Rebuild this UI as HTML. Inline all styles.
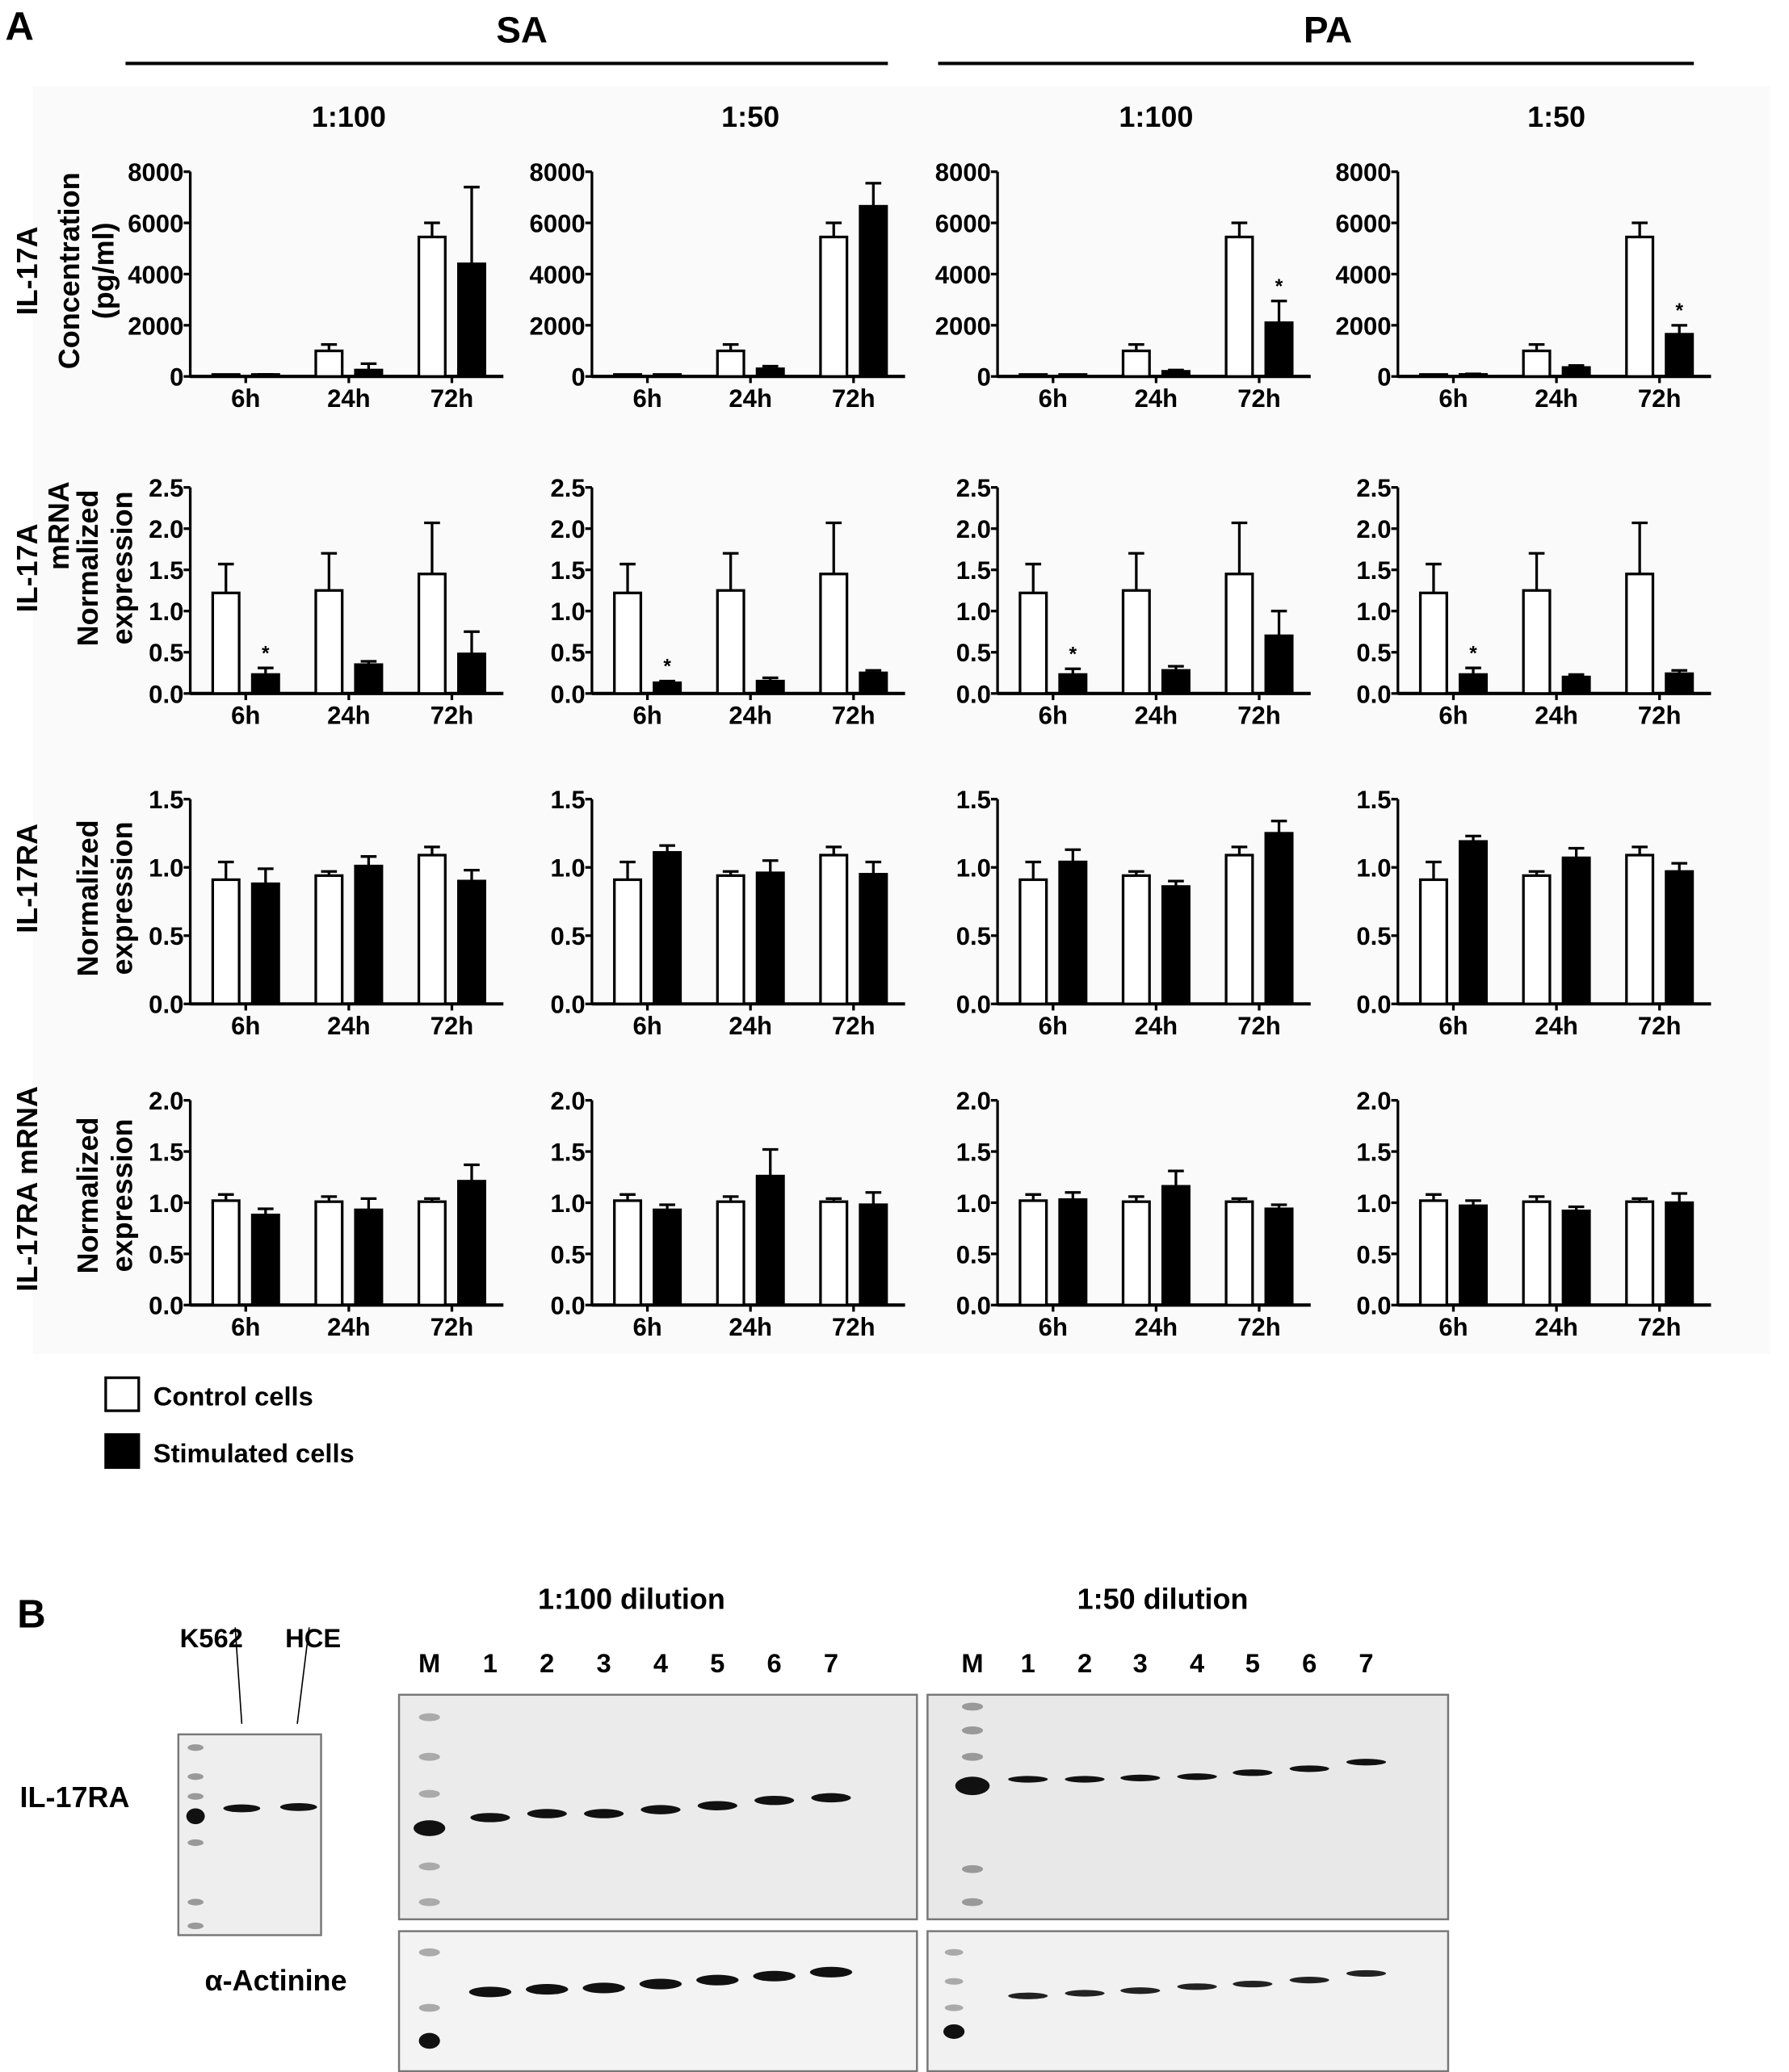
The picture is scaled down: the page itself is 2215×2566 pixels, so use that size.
<!DOCTYPE html>
<html><head><meta charset="utf-8"><style>
html,body{margin:0;padding:0;background:#fff;}
svg{display:block;}
text{font-family:"Liberation Sans",Arial,sans-serif;font-weight:bold;fill:#000;}
</style></head><body>
<svg id="fig" width="2215" height="2566" viewBox="0 0 1354 1568.6" preserveAspectRatio="none" xmlns="http://www.w3.org/2000/svg">
<rect x="0" y="0" width="1354" height="1569" fill="#fff"/>
<rect x="25" y="65" width="1315" height="960" fill="#fafafa"/>
<text x="4" y="30" font-size="30">A</text>
<text x="395" y="32" font-size="28" text-anchor="middle">SA</text>
<line x1="95" y1="48" x2="672" y2="48" stroke="#000" stroke-width="2.5"/>
<text x="1005" y="32" font-size="28" text-anchor="middle">PA</text>
<line x1="710" y1="48" x2="1282" y2="48" stroke="#000" stroke-width="2.5"/>
<g id="charts"></g>
<g>
<rect x="80" y="1043" width="25" height="25" fill="#fff" stroke="#000" stroke-width="2"/>
<text x="116" y="1064" font-size="20">Control cells</text>
<rect x="80" y="1086" width="25" height="25" fill="#000" stroke="#000" stroke-width="2"/>
<text x="116" y="1107" font-size="20">Stimulated cells</text>
</g>
<g id="partb"></g>
</svg>
<script>
const NS="http://www.w3.org/2000/svg";
const timepoints=["6h","24h","72h"];
const colTitles=["1:100","1:50","1:100","1:50"];
// Row 1: IL-17A concentration (pg/ml)
const r1Control=[30,1000,5450];
const r1ControlErr=[0,250,550];
const r1Stim=[[60,250,4400],[40,300,6650],[30,200,2100],[80,350,1650]];
const r1StimErr=[[20,250,3000],[0,100,900],[0,50,850],[20,80,350]];
const r1Stars=[[],[],[2],[2]];
const r1Ticks=["0","2000","4000","6000","8000"];
// Row 2: IL-17A mRNA
const r2Control=[1.22,1.25,1.45];
const r2ControlErr=[0.35,0.45,0.62];
const r2Stim=[[0.23,0.35,0.48],[0.13,0.15,0.25],[0.23,0.28,0.70],[0.23,0.20,0.24]];
const r2StimErr=[[0.08,0.04,0.27],[0.02,0.04,0.03],[0.07,0.05,0.30],[0.08,0.03,0.04]];
const r2Stars=[[0],[0],[0],[0]];
const r2Ticks=["0.0","0.5","1.0","1.5","2.0","2.5"];
// Row 3: IL-17RA protein
const r3Control=[0.91,0.94,1.09];
const r3ControlErr=[0.13,0.03,0.06];
const r3Stim=[[0.88,1.01,0.90],[1.11,0.96,0.95],[1.04,0.86,1.25],[1.19,1.07,0.97]];
const r3StimErr=[[0.11,0.07,0.08],[0.05,0.09,0.09],[0.09,0.04,0.09],[0.04,0.07,0.06]];
const r3Stars=[[],[],[],[]];
const r3Ticks=["0.0","0.5","1.0","1.5"];
// Row 4: IL-17RA mRNA
const r4Control=[1.02,1.01,1.01];
const r4ControlErr=[0.06,0.05,0.03];
const r4Stim=[[0.88,0.93,1.21],[0.93,1.26,0.98],[1.03,1.16,0.94],[0.97,0.92,1.00]];
const r4StimErr=[[0.06,0.11,0.16],[0.05,0.26,0.12],[0.07,0.15,0.04],[0.05,0.04,0.09]];
const r4Stars=[[],[],[],[]];
const r4Ticks=["0.0","0.5","1.0","1.5","2.0"];

const colAxisX=[144,448,755,1058];
const rows=[
 {name:"il17a-concentration",ctl:r1Control,ctlE:r1ControlErr,st:r1Stim,stE:r1StimErr,stars:r1Stars,ticks:r1Ticks,max:8000,top:130,bot:285},
 {name:"il17a-mrna",ctl:r2Control,ctlE:r2ControlErr,st:r2Stim,stE:r2StimErr,stars:r2Stars,ticks:r2Ticks,max:2.5,top:369,bot:525},
 {name:"il17ra-protein",ctl:r3Control,ctlE:r3ControlErr,st:r3Stim,stE:r3StimErr,stars:r3Stars,ticks:r3Ticks,max:1.5,top:605,bot:760},
 {name:"il17ra-mrna",ctl:r4Control,ctlE:r4ControlErr,st:r4Stim,stE:r4StimErr,stars:r4Stars,ticks:r4Ticks,max:2.0,top:833,bot:988}
];
function mk(tag,attrs,parent){const e=document.createElementNS(NS,tag);for(const k in attrs)e.setAttribute(k,attrs[k]);parent.appendChild(e);return e;}
const charts=document.getElementById("charts");
const tickOff=[42,120,198];
rows.forEach((row,ri)=>{
 colAxisX.forEach((ax,ci)=>{
  const g=mk("g",{},charts);
  
  
  const y=v=>row.bot-(v/row.max)*(row.bot-row.top);
  const xt=i=>ax+tickOff[i];
  if(ri===0){const t=mk("text",{x:ax+120,y:96,"font-size":22,"text-anchor":"middle"},g);t.textContent=colTitles[ci];
   
   }
  const ya=mk("line",{x1:ax,y1:row.top,x2:ax,y2:row.bot+1,stroke:"#000","stroke-width":2},g);
  
  
  row.ticks.forEach((lab,i)=>{
   const v=parseFloat(lab);const yy=y(v);
   mk("line",{x1:ax-5,y1:yy,x2:ax,y2:yy,stroke:"#000","stroke-width":2},g);
   const t=mk("text",{x:ax-5,y:yy+7,"font-size":19,"text-anchor":"end"},g);t.textContent=lab;
   
   
  });
  const xa=mk("line",{x1:ax,y1:row.bot,x2:ax+237,y2:row.bot,stroke:"#000","stroke-width":2.5},g);
  
  
  timepoints.forEach((tp,i)=>{
   mk("line",{x1:xt(i),y1:row.bot,x2:xt(i),y2:row.bot+5,stroke:"#000","stroke-width":2},g);
   const t=mk("text",{x:xt(i),y:row.bot+23,"font-size":19,"text-anchor":"middle"},g);t.textContent=tp;
   
   
   const series=[[row.ctl[i],row.ctlE[i],-25,"#fff","control"],[row.st[ci][i],row.stE[ci][i],5,"#000","stimulated"]];
   series.forEach(s=>{
    const v=s[0],e=s[1],x0=xt(i)+s[2],w=20,cx=x0+w/2;
    if(e>0){
     mk("line",{x1:cx,y1:y(v),x2:cx,y2:y(v+e),stroke:"#000","stroke-width":2},g);
     mk("line",{x1:cx-6,y1:y(v+e),x2:cx+6,y2:y(v+e),stroke:"#000","stroke-width":2},g);
    }
    const h=Math.max(row.bot-y(v),1.5);
    const b=mk("rect",{x:x0,y:row.bot-h,width:w,height:h,fill:s[3],stroke:"#000","stroke-width":2},g);
    
    
   });
   if(row.stars[ci].includes(i)){
    const v=row.st[ci][i]+row.stE[ci][i];
    const t=mk("text",{x:xt(i)+15,y:y(v)-6,"font-size":15,"text-anchor":"middle","font-weight":"normal"},g);t.textContent="*";
    
    
   }
  });
 });
});
const yTitles=[
 ["IL-17A",20,205],["Concentration",52,205],["(pg/ml)",78,205],
 ["IL-17A",20,430],["mRNA",44,398],["Normalized",66,430],["expression",92,430],
 ["IL-17RA",20,665],["Normalized",66,680],["expression",92,680],
 ["IL-17RA mRNA",20,900],["Normalized",66,905],["expression",92,905]
];
yTitles.forEach(t=>{
 const e=mk("text",{x:0,y:0,"font-size":22,"text-anchor":"middle",transform:`translate(${t[1]+8},${t[2]}) rotate(-90)`},charts);
 e.textContent=t[0];
 
 
});
const pb=document.getElementById("partb");
function txt(s,x,y,size,anchor,name){const e=mk("text",{x:x,y:y,"font-size":size,"text-anchor":anchor||"start"},pb);e.textContent=s;
 
 return e;}
txt("B",13,1232,30,"start","panel-b-label");
txt("K562",160,1247,20,"middle","k562-label");
txt("HCE",237,1247,20,"middle","hce-label");
mk("line",{x1:183,y1:1305,x2:178,y2:1232,stroke:"#000","stroke-width":1},pb);
mk("line",{x1:225,y1:1305,x2:234,y2:1232,stroke:"#000","stroke-width":1},pb);
txt("IL-17RA",15,1368,22,"start","il17ra-blot-label");
txt("α-Actinine",155,1507,22,"start","actinine-blot-label");
txt("1:100 dilution",478,1218,22,"middle","dilution-100-title");
txt("1:50 dilution",880,1218,22,"middle","dilution-50-title");
const lanes1=[325,371,414,457,500,543,586,629];
const lanes2=[736,778,821,863,906,948,991,1034];
const laneLabels=["M","1","2","3","4","5","6","7"];
laneLabels.forEach((l,i)=>{txt(l,lanes1[i],1266,20,"middle","lane-label");txt(l,lanes2[i],1266,20,"middle","lane-label");});
function blot(x,y,w,h,fill,name){const r=mk("rect",{x:x,y:y,width:w,height:h,fill:fill,stroke:"#777","stroke-width":1.5},pb);
 
 }
blot(135,1313,108,152,"#eeeeee","blot-cell-lines");
blot(302,1283,392,170,"#ebebeb","blot-il17ra-100");
blot(702,1283,394,170,"#e8e8e8","blot-il17ra-50");
blot(302,1462,392,106,"#f3f3f3","blot-actinine-100");
blot(702,1462,394,106,"#f1f1f1","blot-actinine-50");
function band(x,y,w,h,c){mk("ellipse",{cx:x,cy:y,rx:w/2,ry:h/2,fill:c},pb);}
[1323,1345,1360,1395,1440,1458].forEach(yy=>band(148,yy,12,5,"#999"));
band(148,1375,14,12,"#111");band(183,1369,28,6,"#111");band(226,1368,28,6,"#111");
[1300,1330,1358,1413,1440].forEach(yy=>band(325,yy,16,6,"#aaa"));
band(325,1384,24,12,"#111");
[1376,1373,1373,1370,1367,1363,1361].forEach((yy,i)=>band(lanes1[i+1],yy,30,7,"#111"));
[1292,1310,1330,1415,1440].forEach(yy=>band(736,yy,16,6,"#999"));
band(736,1352,26,14,"#111");
[1347,1347,1346,1345,1342,1339,1334].forEach((yy,i)=>band(lanes2[i+1],yy,30,5,"#111"));
[1478,1520].forEach(yy=>band(325,yy,16,6,"#aaa"));band(325,1545,16,12,"#111");
[1508,1506,1505,1502,1499,1496,1493].forEach((yy,i)=>band(lanes1[i+1],yy,32,8,"#111"));
[1478,1500,1520].forEach(yy=>band(722,yy,14,5,"#aaa"));band(722,1538,16,11,"#111");
[1511,1509,1507,1504,1502,1499,1494].forEach((yy,i)=>band(lanes2[i+1],yy,30,5,"#222"));
</script>
</body></html>
